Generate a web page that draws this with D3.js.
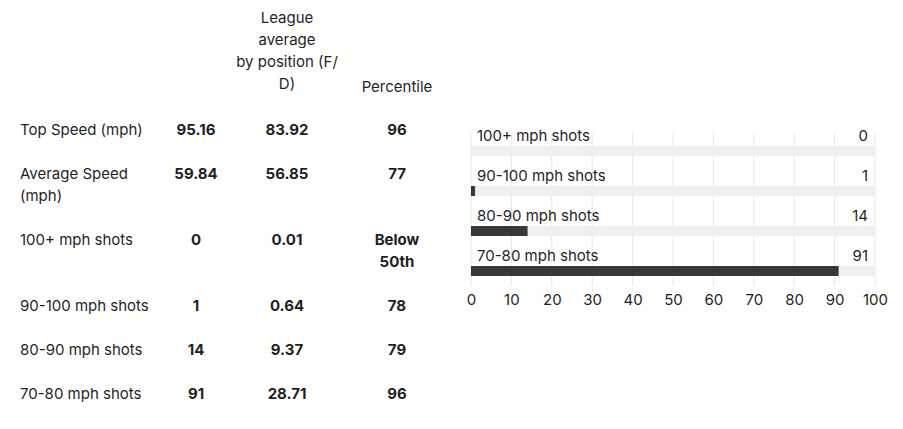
<!DOCTYPE html>
<html>
<head>
<meta charset="utf-8">
<script src="https://cdn.jsdelivr.net/npm/d3@7"></script>
<style>
  body { margin: 0; background: #fff; }
  svg { display: block; font-family: Inter, "Noto Sans", sans-serif; }
</style>
</head>
<body>
<svg id="chart" width="903" height="429"></svg>
<script>
// table data
const headers = ["", "", "League\naverage\nby position (F/\nD)", "Percentile"];
const rowLabels = ["Top Speed (mph)", "Average Speed (mph)", "100+ mph shots", "90-100 mph shots", "80-90 mph shots", "70-80 mph shots"];
const playerValues = ["95.16", "59.84", "0", "1", "14", "91"];
const leagueValues = ["83.92", "56.85", "0.01", "0.64", "9.37", "28.71"];
const percentiles = ["96", "77", "Below 50th", "78", "79", "96"];

// bar chart data
const shotCategories = ["100+ mph shots", "90-100 mph shots", "80-90 mph shots", "70-80 mph shots"];
const shotCounts = [0, 1, 14, 91];
const xTicks = [0, 10, 20, 30, 40, 50, 60, 70, 80, 90, 100];

const svg = d3.select("#chart");
const fontSize = 15;
const lineH = 22;
const ink = "#1f1f1f";

// break text into lines that fit maxW, break after spaces or "/"
function wrapLines(text, maxW, weight) {
  const tokens = text.match(/[^ \/]+[ \/]?/g) || [""];
  const probe = svg.append("text").attr("font-size", fontSize).attr("font-weight", weight);
  const lines = [];
  let cur = "";
  tokens.forEach((t) => {
    const test = cur + t;
    probe.text(test.trim());
    if (cur && probe.node().getComputedTextLength() > maxW) {
      lines.push(cur.trim());
      cur = t;
    } else {
      cur = test;
    }
  });
  if (cur) lines.push(cur.trim());
  probe.remove();
  return lines;
}

const cols = [
  { x: 20, anchor: "start", w: 135, weight: 400 },
  { x: 196, anchor: "middle", w: 60, weight: 700 },
  { x: 287, anchor: "middle", w: 105, weight: 700 },
  { x: 397, anchor: "middle", w: 75, weight: 700 },
];

function drawCell(lines, col, yTop, weight) {
  const t = svg.append("text")
    .attr("font-size", fontSize)
    .attr("font-weight", weight)
    .attr("fill", ink)
    .attr("text-anchor", col.anchor);
  lines.forEach((l, i) => {
    t.append("tspan").attr("x", col.x).attr("y", yTop + i * lineH).attr("dy", "0.35em").text(l);
  });
}

// header, bottom aligned
const headerLines = headers.map((h) => (h ? h.split("\n") : []));
const headerBottom = 87;
headerLines.forEach((lines, i) => {
  drawCell(lines, cols[i], headerBottom - (lines.length - 1) * 23, 400);
});

// body rows
let y = 130;
rowLabels.forEach((label, r) => {
  const cells = [label, playerValues[r], leagueValues[r], percentiles[r]];
  const wrapped = cells.map((c, i) => wrapLines(c, cols[i].w, i === 0 ? 400 : 700));
  wrapped.forEach((lines, i) => drawCell(lines, cols[i], y, i === 0 ? 400 : 700));
  const n = d3.max(wrapped, (d) => d.length);
  y += n * lineH + lineH;
});

// bar chart
const x = d3.scaleLinear().domain([0, 100]).range([471, 875]);
const yBand = d3.scaleBand().domain(shotCategories).range([125, 285]);
const trackTop = 21, trackH = 10;

svg.append("g")
  .selectAll("line")
  .data(xTicks)
  .join("line")
  .attr("x1", (d) => x(d)).attr("x2", (d) => x(d))
  .attr("y1", 133).attr("y2", 286)
  .attr("stroke", "#e6e6e6")
  .attr("stroke-width", 1);

const rows = svg.append("g")
  .selectAll("g")
  .data(shotCategories)
  .join("g")
  .attr("transform", (d) => `translate(0,${yBand(d)})`);

rows.append("rect")
  .attr("x", x(0)).attr("y", trackTop)
  .attr("width", x(100) - x(0)).attr("height", trackH)
  .attr("fill", "#efefef");

rows.append("rect")
  .attr("x", x(0)).attr("y", trackTop)
  .attr("width", (d, i) => x(shotCounts[i]) - x(0)).attr("height", trackH)
  .attr("fill", "#383838");

rows.append("text")
  .attr("x", x(0) + 6).attr("y", 11).attr("dy", "0.35em")
  .attr("font-size", fontSize).attr("fill", ink)
  .text((d) => d);

rows.append("text")
  .attr("x", x(100) - 7).attr("y", 11).attr("dy", "0.35em")
  .attr("text-anchor", "end")
  .attr("font-size", fontSize).attr("fill", ink)
  .text((d, i) => shotCounts[i]);

const axis = svg.append("g")
  .attr("transform", "translate(0,285)")
  .call(d3.axisBottom(x).tickValues(xTicks).tickSize(0).tickPadding(9));
axis.select(".domain").remove();
axis.selectAll("text").attr("font-size", fontSize).attr("fill", ink).attr("font-family", "Inter, 'Noto Sans', sans-serif");
</script>
</body>
</html>
